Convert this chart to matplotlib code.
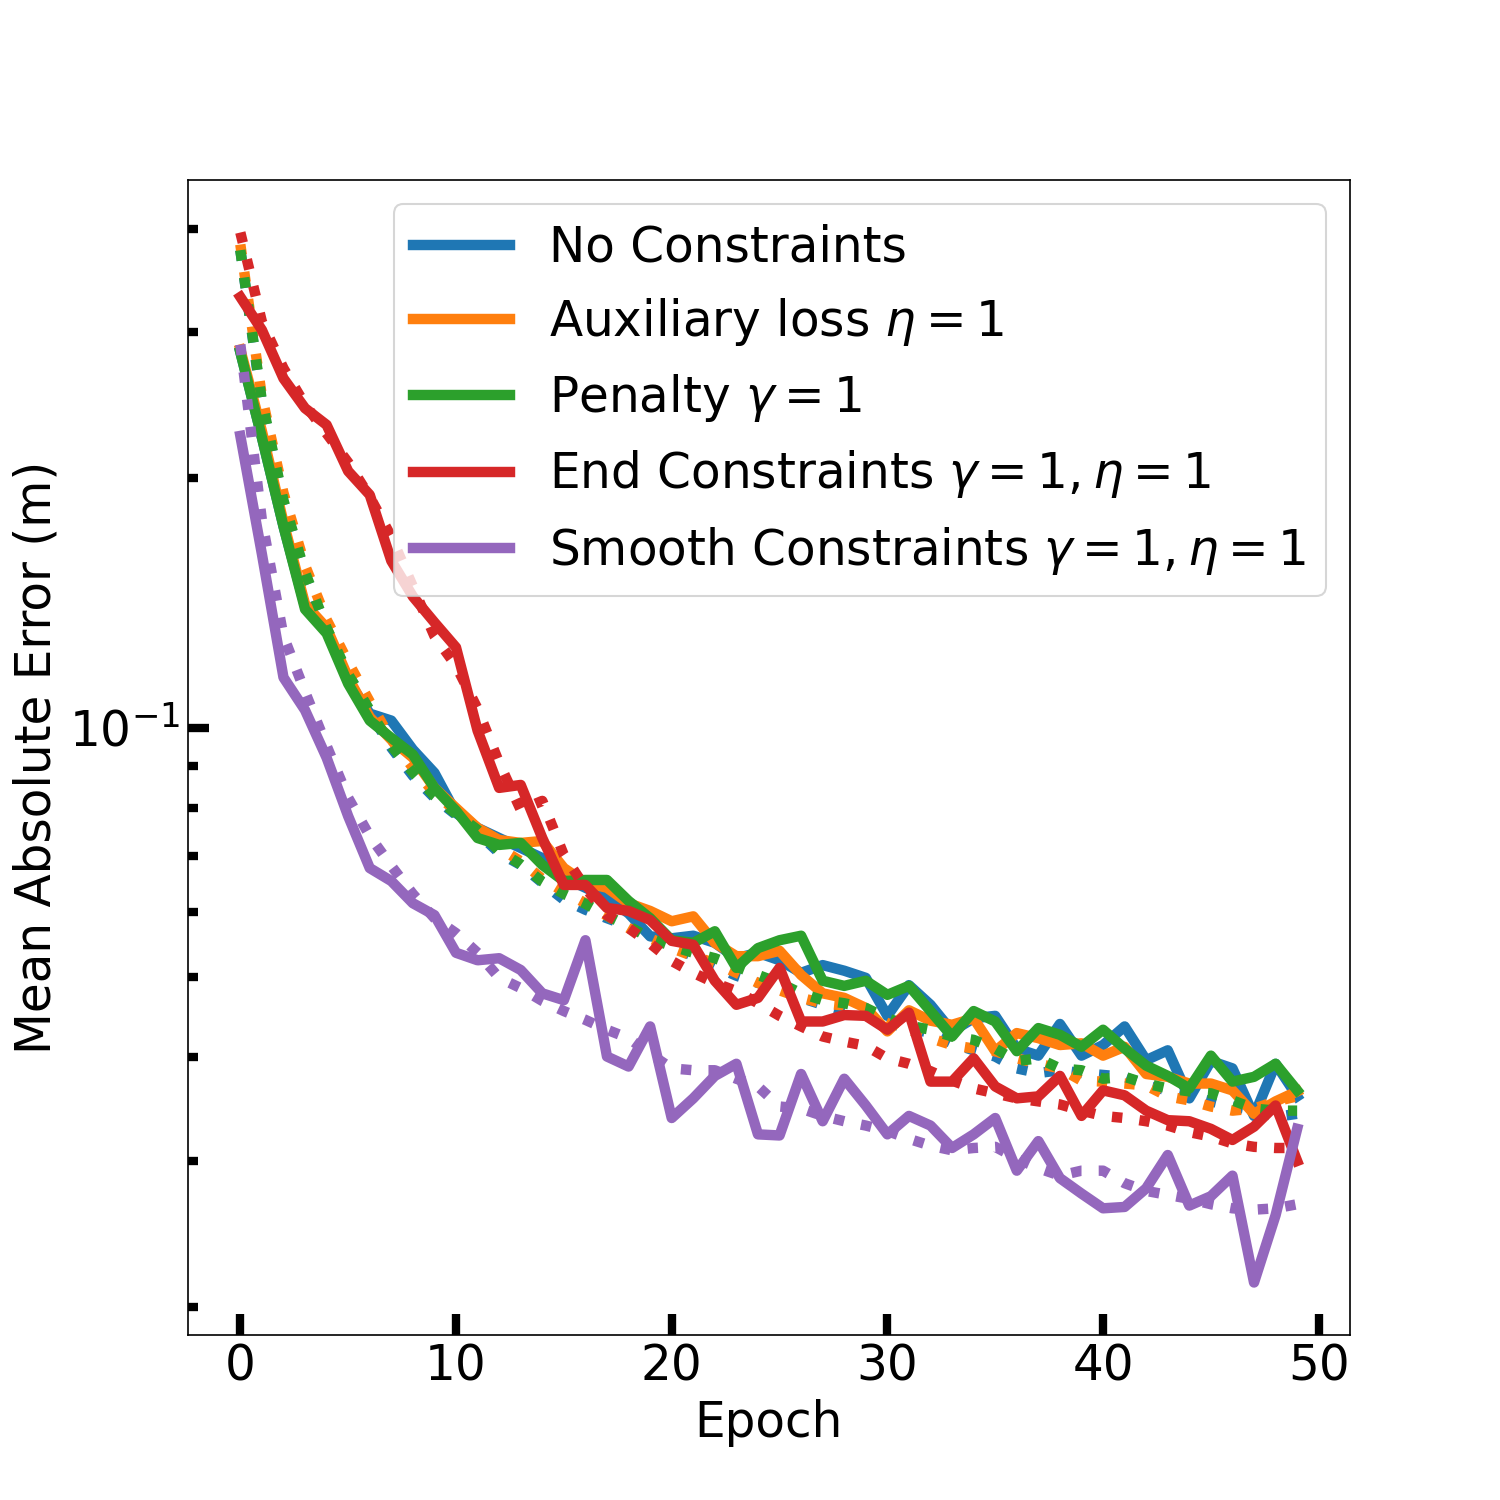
"""
Mean absolute error per epoch for the five constraint settings.
Solid lines and dotted lines for each setting, log scale on the y axis.
"""

import numpy as np
import matplotlib
matplotlib.use("Agg")
import matplotlib.pyplot as plt

FILENAME = "out.png"
FONT_SIZE = 23.3
LINE_WIDTH = 5

EPOCHS = np.arange(50)

LABELS = [
    "No Constraints",
    r"Auxiliary loss $\eta = 1$",
    r"Penalty $\gamma = 1$",
    r"End Constraints $\gamma = 1, \eta = 1$",
    r"Smooth Constraints $\gamma = 1, \eta = 1$",
]
COLORS = ["tab:blue", "tab:orange", "tab:green", "tab:red", "tab:purple"]

# Solid curves.
no_constraints = [
    0.284, 0.224, 0.175, 0.140, 0.131, 0.114, 0.104, 0.102, 0.0941, 0.0882,
    0.0789, 0.0757, 0.0736, 0.0716, 0.0696, 0.0659, 0.0641, 0.0623, 0.0597, 0.0560,
    0.0557, 0.0561, 0.0550, 0.0527, 0.0535, 0.0524, 0.0506, 0.0517, 0.0509, 0.0499,
    0.0449, 0.0489, 0.0463, 0.0430, 0.0446, 0.0449, 0.0410, 0.0402, 0.0439, 0.0402,
    0.0414, 0.0436, 0.0397, 0.0408, 0.0357, 0.0396, 0.0388, 0.0340, 0.0393, 0.0359,
]
auxiliary = [
    0.286, 0.228, 0.177, 0.141, 0.132, 0.115, 0.103, 0.0967, 0.0920, 0.0846,
    0.0800, 0.0757, 0.0732, 0.0726, 0.0730, 0.0677, 0.0650, 0.0641, 0.0614, 0.0601,
    0.0584, 0.0592, 0.0550, 0.0530, 0.0530, 0.0538, 0.0503, 0.0478, 0.0472, 0.0459,
    0.0430, 0.0456, 0.0443, 0.0438, 0.0446, 0.0407, 0.0428, 0.0422, 0.0414, 0.0416,
    0.0402, 0.0412, 0.0382, 0.0379, 0.0372, 0.0372, 0.0365, 0.0342, 0.0354, 0.0364,
]
penalty = [
    0.284, 0.224, 0.175, 0.139, 0.130, 0.113, 0.102, 0.0972, 0.0928, 0.0846,
    0.0794, 0.0736, 0.0722, 0.0726, 0.0683, 0.0653, 0.0655, 0.0655, 0.0618, 0.0589,
    0.0554, 0.0550, 0.0568, 0.0513, 0.0542, 0.0554, 0.0561, 0.0495, 0.0488, 0.0495,
    0.0476, 0.0488, 0.0455, 0.0424, 0.0455, 0.0442, 0.0407, 0.0434, 0.0426, 0.0412,
    0.0432, 0.0410, 0.0391, 0.0380, 0.0367, 0.0402, 0.0374, 0.0379, 0.0393, 0.0365,
]
end_constraints = [
    0.331, 0.302, 0.264, 0.243, 0.232, 0.204, 0.191, 0.159, 0.144, 0.134,
    0.125, 0.0992, 0.0846, 0.0853, 0.0736, 0.0646, 0.0646, 0.0606, 0.0601, 0.0586,
    0.0553, 0.0547, 0.0495, 0.0463, 0.0472, 0.0513, 0.0442, 0.0442, 0.0450, 0.0449,
    0.0432, 0.0453, 0.0374, 0.0374, 0.0399, 0.0369, 0.0357, 0.0359, 0.0380, 0.0340,
    0.0365, 0.0360, 0.0345, 0.0336, 0.0335, 0.0328, 0.0318, 0.0330, 0.0350, 0.0300,
]
smooth_constraints = [
    0.225, 0.162, 0.115, 0.105, 0.0920, 0.0782, 0.0677, 0.0653, 0.0614, 0.0594,
    0.0535, 0.0524, 0.0527, 0.0510, 0.0478, 0.0469, 0.0554, 0.0401, 0.0390, 0.0436,
    0.0338, 0.0357, 0.0380, 0.0393, 0.0323, 0.0322, 0.0382, 0.0335, 0.0377, 0.0350,
    0.0323, 0.0340, 0.0331, 0.0311, 0.0323, 0.0338, 0.0292, 0.0317, 0.0286, 0.0274,
    0.0263, 0.0264, 0.0278, 0.0305, 0.0265, 0.0272, 0.0288, 0.0214, 0.0258, 0.0328,
]

# Dotted curves.
no_constraints_dot = [
    0.377, 0.246, 0.187, 0.153, 0.131, 0.116, 0.1045, 0.0946, 0.0875, 0.0823,
    0.0785, 0.0747, 0.0706, 0.0683, 0.0650, 0.0620, 0.0603, 0.0589, 0.0576, 0.0557,
    0.0545, 0.0530, 0.0515, 0.0502, 0.0492, 0.0485, 0.0472, 0.0463, 0.0456, 0.0449,
    0.0440, 0.0434, 0.0428, 0.0416, 0.0408, 0.0401, 0.0388, 0.0383, 0.0386, 0.0383,
    0.0381, 0.0379, 0.0370, 0.0365, 0.0360, 0.0354, 0.0349, 0.0345, 0.0339, 0.0342,
]
auxiliary_dot = [
    0.383, 0.251, 0.192, 0.157, 0.135, 0.120, 0.1075, 0.0967, 0.0895, 0.0834,
    0.0793, 0.0757, 0.0716, 0.0690, 0.0657, 0.0634, 0.0614, 0.0593, 0.0573, 0.0557,
    0.0542, 0.0530, 0.0520, 0.0506, 0.0492, 0.0482, 0.0472, 0.0465, 0.0462, 0.0453,
    0.0440, 0.0432, 0.0422, 0.0414, 0.0410, 0.0407, 0.0399, 0.0393, 0.0388, 0.0375,
    0.0374, 0.0372, 0.0370, 0.0359, 0.0355, 0.0349, 0.0345, 0.0347, 0.0354, 0.0359,
]
penalty_dot = [
    0.377, 0.248, 0.188, 0.154, 0.132, 0.116, 0.105, 0.0951, 0.0883, 0.0827,
    0.0787, 0.0753, 0.0710, 0.0684, 0.0652, 0.0630, 0.0613, 0.0593, 0.0576, 0.0557,
    0.0545, 0.0535, 0.0527, 0.0515, 0.0503, 0.0492, 0.0478, 0.0469, 0.0465, 0.0459,
    0.0446, 0.0437, 0.0432, 0.0424, 0.0420, 0.0410, 0.0396, 0.0399, 0.0388, 0.0386,
    0.0377, 0.0379, 0.0372, 0.0367, 0.0364, 0.0362, 0.0355, 0.0347, 0.0345, 0.0345,
]
end_constraints_dot = [
    0.396, 0.309, 0.2715, 0.2455, 0.2265, 0.209, 0.190, 0.170, 0.148, 0.129,
    0.1188, 0.1054, 0.0907, 0.0796, 0.0816, 0.0702, 0.0641, 0.0594, 0.0573, 0.0549,
    0.0523, 0.0506, 0.0492, 0.0481, 0.0465, 0.0449, 0.0436, 0.0424, 0.0418, 0.0413,
    0.0399, 0.0393, 0.0385, 0.0375, 0.0367, 0.0362, 0.0357, 0.0354, 0.0351, 0.0345,
    0.0340, 0.0338, 0.0335, 0.0331, 0.0325, 0.0321, 0.0315, 0.0312, 0.0311, 0.0311,
]
smooth_constraints_dot = [
    0.290, 0.178, 0.129, 0.1105, 0.0951, 0.0823, 0.0740, 0.0681, 0.0630, 0.0589,
    0.0565, 0.0535, 0.0499, 0.0485, 0.0468, 0.0455, 0.0444, 0.0432, 0.0422, 0.0404,
    0.0388, 0.0386, 0.0386, 0.0377, 0.0369, 0.0349, 0.0347, 0.0340, 0.0335, 0.0331,
    0.0326, 0.0319, 0.0313, 0.0309, 0.0311, 0.0312, 0.0302, 0.0294, 0.0288, 0.0292,
    0.0292, 0.0282, 0.0276, 0.0273, 0.0270, 0.0266, 0.0263, 0.0262, 0.0263, 0.0266,
]

SOLID = [no_constraints, auxiliary, penalty, end_constraints, smooth_constraints]
DOTTED = [no_constraints_dot, auxiliary_dot, penalty_dot, end_constraints_dot,
          smooth_constraints_dot]


def main():
    plt.rcParams["font.size"] = FONT_SIZE

    fig, ax = plt.subplots(figsize=(10, 10), dpi=150)

    # One solid and one dotted curve per setting, only the solid one in the legend.
    for label, color, solid, dotted in zip(LABELS, COLORS, SOLID, DOTTED):
        ax.plot(EPOCHS, solid, color=color, lw=LINE_WIDTH, label=label)
        ax.plot(EPOCHS, dotted, color=color, lw=LINE_WIDTH, ls=":")

    ax.set_yscale("log")
    ax.set_xticks(np.arange(0, 51, 10))
    ax.tick_params(which="both", direction="in", width=4)
    ax.tick_params(which="major", length=10)
    ax.tick_params(which="minor", length=5)

    ax.set_xlabel("Epoch")
    ax.set_ylabel("Mean Absolute Error (m)")
    ax.legend(loc="upper right")

    fig.savefig(FILENAME)
    return 0


if __name__ == "__main__":
    main()
